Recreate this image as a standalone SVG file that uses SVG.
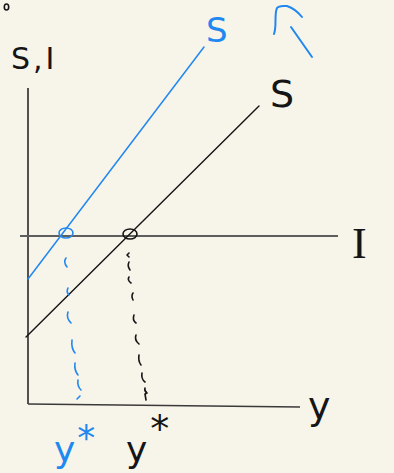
<svg xmlns="http://www.w3.org/2000/svg" width="394" height="473" viewBox="0 0 394 473">
<style>
.blue{stroke:#2188f0;fill:none;stroke-linecap:round;stroke-linejoin:round}
.blk{stroke:#151515;fill:none;stroke-linecap:round;stroke-linejoin:round}
.tb{fill:#151515;font-family:"DejaVu Sans","Liberation Sans",sans-serif}
.tbl{fill:#2188f0;font-family:"DejaVu Sans","Liberation Sans",sans-serif}
</style>
<rect width="394" height="473" fill="#f7f4ea"/>
<ellipse cx="6.5" cy="7" rx="2.2" ry="3" class="blk" stroke-width="1.6"/>
<g id="axes">
<line x1="28" y1="88" x2="28" y2="404" stroke="#2a2a2a" stroke-width="1.6"/>
<line x1="28" y1="404" x2="300" y2="407" stroke="#3a3a3a" stroke-width="1.6"/>
<line x1="20" y1="236" x2="338" y2="236" stroke="#5e5e5e" stroke-width="2"/>
</g>
<g id="connectors">
<line x1="26" y1="337" x2="259" y2="106" class="blk" stroke-width="1.4"/>
<line x1="28" y1="279" x2="204" y2="47" class="blue" stroke-width="1.5"/>
<path class="blue" stroke-width="1.6" d="M66 258q-3 4 1 9M68 288q-2 4 1 7M68 312q-2 6 3 11M72 340q-1 8 3 13M75 363q-1 7 3 12M78 380q-1 6 3 10M80 396l-3 3"/>
<path class="blk" stroke-width="1.6" d="M129 253l-2 2 2 2M129 262q-2 4 1 8M129 277q-2 3 2 6M133 293q-2 3 0 7M134 315q-2 5 2 8M136 335q-2 5 3 9M139 355q-1 6 2 10M142 373q-1 6 3 9M145 388q-1 3 2 5l-2 1 1 6"/>
</g>
<g id="eq-blue"><ellipse cx="66" cy="233" rx="7" ry="5" class="blue" stroke-width="1.6"/></g>
<g id="eq-black"><ellipse cx="130" cy="234" rx="7" ry="5" class="blk" stroke-width="1.6"/></g>
<g id="shift-arrow">
<path class="blue" stroke-width="2" d="M274 34C277 26 274 14 277 8C279 5 283 6 287 6C293 8 298 12 302 17M291 27l21 30"/>
</g>
<g id="labels">
<text x="11" y="69" class="tb" font-size="30" letter-spacing="3">S,I</text>
<text x="206" y="42" class="tbl" font-size="34">S</text>
<text x="270" y="107" class="tb" font-size="38">S</text>
<text x="352" y="258" class="tb" font-size="44" style="font-family:'Liberation Serif',serif">I</text>
<text x="308" y="419" class="tb" font-size="38">y</text>
<text x="54" y="462" class="tbl" font-size="36">y<tspan font-size="36" dx="2" dy="-12">*</tspan></text>
<text x="126" y="462" class="tb" font-size="36">y<tspan font-size="38" dx="3" dy="-20">*</tspan></text>
</g>
</svg>
